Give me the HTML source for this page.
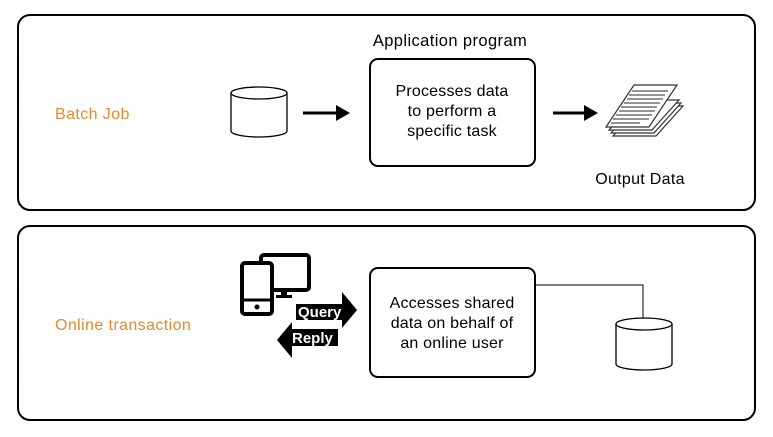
<!DOCTYPE html>
<html><head><style>body{margin:0;background:#fff}svg{display:block}text{font-family:"Liberation Sans",sans-serif}</style></head><body>
<svg width="773" height="437" viewBox="0 0 773 437">
<rect x="18" y="15" width="737" height="195" rx="12" fill="none" stroke="#000" stroke-width="2"/>
<rect x="18" y="226" width="737" height="194" rx="12" fill="none" stroke="#000" stroke-width="2"/>
<text x="55" y="119" font-size="16" letter-spacing="0.4" fill="#e38b2c">Batch Job</text>
<text x="55" y="330" font-size="16" letter-spacing="0.4" fill="#e38b2c">Online transaction</text>
<g fill="#fff" stroke="#000" stroke-width="1.3">
<path d="M231 93 V131 A28 6 0 0 0 287 131 V93"/>
<ellipse cx="259" cy="93" rx="28" ry="6"/>
</g>
<line x1="303" y1="113" x2="340" y2="113" stroke="#000" stroke-width="3"/>
<path d="M336 105 L350 113 L336 121 Z"/>
<line x1="553" y1="113" x2="588" y2="113" stroke="#000" stroke-width="3"/>
<path d="M584 105 L598 113 L584 121 Z"/>
<text x="450" y="46" font-size="16.5" letter-spacing="0.4" text-anchor="middle">Application program</text>
<rect x="370" y="59" width="165" height="107" rx="8" fill="#fff" stroke="#000" stroke-width="2"/>
<text font-size="16" letter-spacing="0.2" text-anchor="middle"><tspan x="452" y="96">Processes data</tspan><tspan x="452" y="116">to perform a</tspan><tspan x="452" y="136">specific task</tspan></text>
<g fill="#fff" stroke="#333" stroke-width="1.2">
<path d="M613 127 L640 97 L683 97 L656 127 Z" transform="translate(0,9)"/>
<path d="M613 127 L640 97 L683 97 L656 127 Z" transform="translate(-2,6)"/>
<path d="M613 127 L640 97 L683 97 L656 127 Z" transform="translate(-4,3)"/>
<path d="M606 127 L634 85 L677 85 L649 127 Z"/>
</g>
<g stroke="#555" stroke-width="1.2">
<line x1="632" y1="91" x2="668" y2="91"/><line x1="629" y1="95" x2="665" y2="95"/><line x1="627" y1="99" x2="663" y2="99"/><line x1="624" y1="103" x2="660" y2="103"/><line x1="621" y1="107" x2="657" y2="107"/><line x1="619" y1="111" x2="655" y2="111"/><line x1="616" y1="115" x2="652" y2="115"/><line x1="613" y1="119" x2="649" y2="119"/><line x1="611" y1="123" x2="640" y2="123"/>
</g>
<text x="640" y="184" font-size="16" letter-spacing="0.3" text-anchor="middle">Output Data</text>
<rect x="261" y="255" width="48" height="35" rx="3" fill="#fff" stroke="#000" stroke-width="4"/>
<rect x="281" y="291" width="6" height="5"/><rect x="276" y="295" width="16" height="3"/>
<rect x="242" y="263" width="30" height="51" rx="3" fill="#fff" stroke="#000" stroke-width="4"/>
<line x1="242" y1="300" x2="272" y2="300" stroke="#000" stroke-width="3"/>
<circle cx="257" cy="307" r="2.5"/>
<path d="M296 304 L342 304 L342 292 L357 310 L342 328 L342 320 L296 320 Z"/>
<text x="298" y="317" font-size="15" font-weight="bold" fill="#fff">Query</text>
<path d="M338 329 L292 329 L292 322 L277 340 L292 358 L292 346 L338 346 Z"/>
<text x="292" y="343" font-size="15" font-weight="bold" fill="#fff">Reply</text>
<rect x="370" y="268" width="165" height="109" rx="8" fill="#fff" stroke="#000" stroke-width="2"/>
<text font-size="16" letter-spacing="0.2" text-anchor="middle"><tspan x="452" y="308">Accesses shared</tspan><tspan x="452" y="328">data on behalf of</tspan><tspan x="452" y="348">an online user</tspan></text>
<path d="M535 285 H643 V318" fill="none" stroke="#000" stroke-width="1"/>
<g fill="#fff" stroke="#000" stroke-width="1.3">
<path d="M616 324 V364 A28 6 0 0 0 672 364 V324"/>
<ellipse cx="644" cy="324" rx="28" ry="6"/>
</g>
</svg>
</body></html>
